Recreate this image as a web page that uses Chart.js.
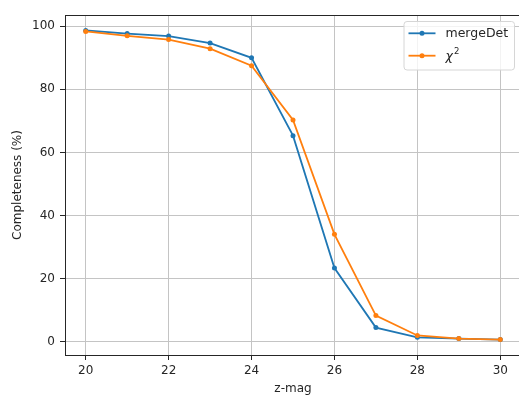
<!DOCTYPE html>
<html>
<head>
<meta charset="utf-8">
<script src="https://cdn.jsdelivr.net/npm/chart.js@4"></script>
<style>
html,body{margin:0;padding:0;background:#fff;overflow:hidden;}
#wrap{width:530px;height:401px;}
</style>
</head>
<body>
<div id="wrap"><canvas id="c" width="530" height="401"></canvas></div>
<script>
const zmag = [20, 21, 22, 23, 24, 25, 26, 27, 28, 29, 30];
const mergeDet = [98.7, 97.7, 96.9, 94.7, 90.0, 65.3, 23.3, 4.4, 1.3, 0.9, 0.6];
const chi2 = [98.4, 97.0, 95.8, 92.9, 87.5, 70.3, 34.0, 8.2, 1.9, 0.9, 0.6];
const xTicks = [20, 22, 24, 26, 28, 30];
const yTicks = [0, 20, 40, 60, 80, 100];
const seriesLabels = ['mergeDet', 'χ'];
const colors = ['#1f77b4', '#ff7f0e'];

const FONT = 'DejaVu Sans';

const framePlugin = {
  id: 'frame',
  afterDatasetsDraw(chart) {
    const a = chart.chartArea, ctx = chart.ctx;
    ctx.save();
    ctx.strokeStyle = '#262626';
    ctx.lineWidth = 1;
    ctx.strokeRect(Math.round(a.left) + 0.5, Math.round(a.top) + 0.5, Math.round(a.right - a.left), Math.round(a.bottom - a.top));
    ctx.restore();
  },
  afterDraw(chart) {
    const ctx = chart.ctx;
    ctx.save();
    const bx = 404, by = 21.5, bw = 110.5, bh = 48.5, r = 3;
    ctx.beginPath();
    ctx.moveTo(bx + r, by);
    ctx.lineTo(bx + bw - r, by);
    ctx.quadraticCurveTo(bx + bw, by, bx + bw, by + r);
    ctx.lineTo(bx + bw, by + bh - r);
    ctx.quadraticCurveTo(bx + bw, by + bh, bx + bw - r, by + bh);
    ctx.lineTo(bx + r, by + bh);
    ctx.quadraticCurveTo(bx, by + bh, bx, by + bh - r);
    ctx.lineTo(bx, by + r);
    ctx.quadraticCurveTo(bx, by, bx + r, by);
    ctx.closePath();
    ctx.fillStyle = 'rgba(255,255,255,0.8)';
    ctx.fill();
    ctx.strokeStyle = '#d6d6d6';
    ctx.lineWidth = 1;
    ctx.stroke();
    const rows = [33.3, 55.7];
    chart.data.datasets.forEach((ds, i) => {
      const y = rows[i];
      ctx.strokeStyle = ds.borderColor;
      ctx.lineWidth = 1.8;
      ctx.beginPath();
      ctx.moveTo(408.5, y);
      ctx.lineTo(435.5, y);
      ctx.stroke();
      ctx.fillStyle = ds.borderColor;
      ctx.beginPath();
      ctx.arc(422, y, 2.5, 0, Math.PI * 2);
      ctx.fill();
      ctx.fillStyle = '#262626';
      ctx.textBaseline = 'middle';
      ctx.textAlign = 'left';
      if (i === 0) {
        ctx.font = '12.5px "' + FONT + '"';
        ctx.fillText(ds.label, 445.5, y);
      } else {
        ctx.font = 'italic 12.5px "' + FONT + '"';
        ctx.fillText(ds.label, 445.5, y + 1.5);
        const w = ctx.measureText(ds.label).width;
        ctx.font = '8.5px "' + FONT + '"';
        ctx.fillText('2', 445.5 + w + 1, y - 4);
      }
    });
    ctx.restore();
  }
};

new Chart(document.getElementById('c'), {
  type: 'line',
  data: {
    datasets: [
      {
        label: seriesLabels[0],
        data: zmag.map((x, i) => ({x: x, y: mergeDet[i]})),
        borderColor: colors[0],
        backgroundColor: colors[0],
        borderWidth: 1.8,
        pointRadius: 2.5,
        pointBorderWidth: 0,
        pointHoverRadius: 2.5,
        tension: 0,
        order: 1
      },
      {
        label: seriesLabels[1],
        data: zmag.map((x, i) => ({x: x, y: chi2[i]})),
        borderColor: colors[1],
        backgroundColor: colors[1],
        borderWidth: 1.8,
        pointRadius: 2.5,
        pointBorderWidth: 0,
        pointHoverRadius: 2.5,
        tension: 0,
        order: 0
      }
    ]
  },
  options: {
    responsive: false,
    animation: false,
    devicePixelRatio: 1,
    layout: {padding: {left: 0, top: 15, right: 9, bottom: 0}},
    plugins: {legend: {display: false}, tooltip: {enabled: false}},
    scales: {
      x: {
        type: 'linear',
        min: 19.5,
        max: 30.5,
        afterBuildTicks(s) { s.ticks = xTicks.map(v => ({value: v})); },
        afterFit(s) { s.height = 46; },
        grid: {color: '#c4c4c4', lineWidth: 1, tickColor: '#262626', tickLength: 5, drawTicks: true},
        border: {display: false},
        ticks: {color: '#262626', font: {family: FONT, size: 12}, padding: 4, maxRotation: 0, autoSkip: false},
        title: {display: true, text: 'z-mag', color: '#262626', font: {family: FONT, size: 12}, padding: {top: 0, bottom: 5}}
      },
      y: {
        type: 'linear',
        min: -4.3,
        max: 103.6,
        afterBuildTicks(s) { s.ticks = yTicks.map(v => ({value: v})); },
        afterFit(s) { s.width = 65; },
        grid: {color: '#c4c4c4', lineWidth: 1, tickColor: '#262626', tickLength: 5, drawTicks: true},
        border: {display: false},
        ticks: {color: '#262626', font: {family: FONT, size: 12}, padding: 5, autoSkip: false},
        title: {display: true, text: 'Completeness (%)', color: '#262626', font: {family: FONT, size: 12}, padding: {top: 11, bottom: 0}}
      }
    }
  },
  plugins: [framePlugin]
});
</script>
</body>
</html>
